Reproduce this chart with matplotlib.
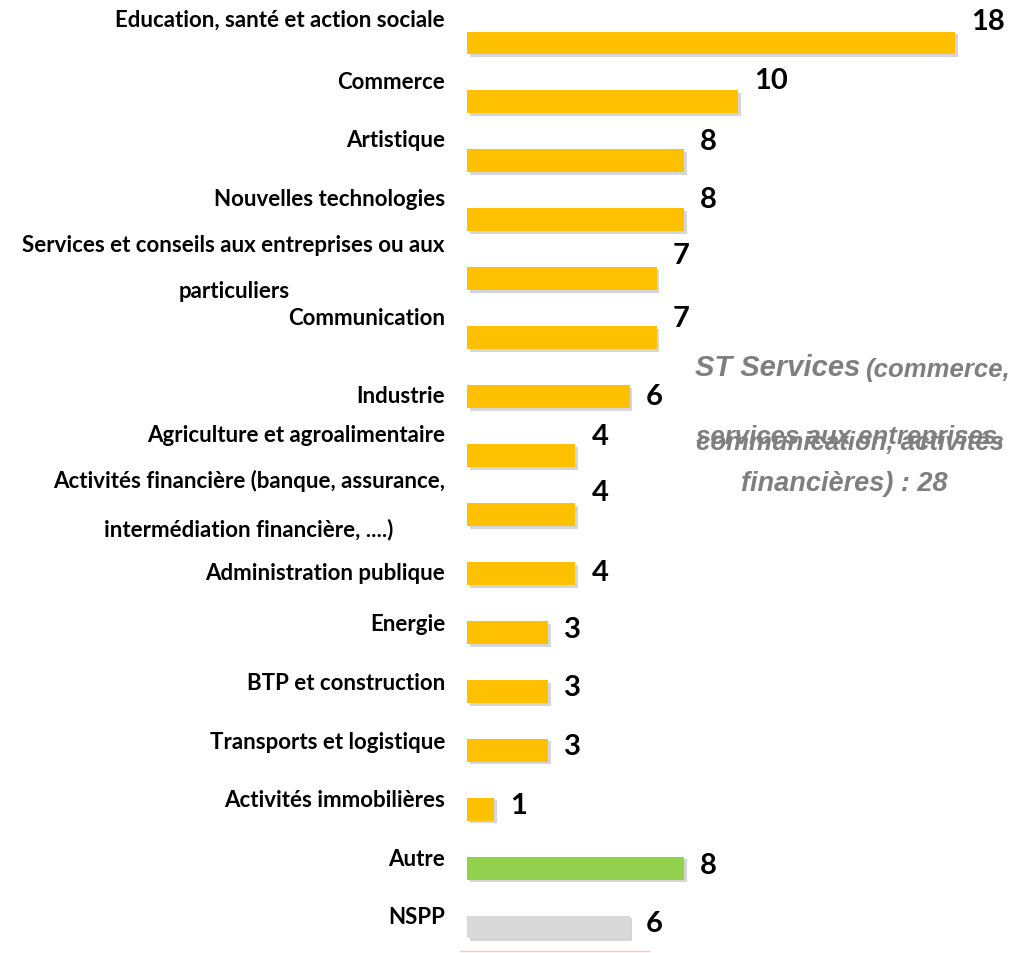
import matplotlib
matplotlib.use("Agg")
import matplotlib.pyplot as plt
import matplotlib.patheffects as pe

categories = [
    "Education, santé et action sociale",
    "Commerce",
    "Artistique",
    "Nouvelles technologies",
    "Services et conseils aux entreprises ou aux\nparticuliers",
    "Communication",
    "Industrie",
    "Agriculture et agroalimentaire",
    "Activités financière (banque, assurance,\nintermédiation financière, ....)",
    "Administration publique",
    "Energie",
    "BTP et construction",
    "Transports et logistique",
    "Activités immobilières",
    "Autre",
    "NSPP",
]
values = [18, 10, 8, 8, 7, 7, 6, 4, 4, 4, 3, 3, 3, 1, 8, 6]
groups = ["sector"] * 14 + ["other", "nspp"]

colors = {"sector": "#FFC000", "other": "#92D050", "nspp": "#D9D9D9"}
# vertical offsets (pixels) of category labels and value labels relative to bar centre
label_dy = [24, 20, 21, 21, 11, 20, 1, 21, 10, 1, 9, 9, 9, 10, 10, 10]
value_dy = [22, 22, 20, 21, 24, 20, 1, 20, 22, 1, 3, 4, 4, 4, 3, 4]

fig = plt.figure(figsize=(10.31, 9.54), dpi=100)
ax = fig.add_axes([467 / 1031, 0, 1 - 467 / 1031, 1])
ax.set_xlim(0, 564 / 27.1)
ax.set_ylim(15 + 26 / 58.93, -44 / 58.93)
ax.axis("off")

ypos = list(range(len(categories)))
bars = ax.barh(ypos, values, height=0.39, color=[colors[g] for g in groups])
for b in bars:
    b.set_path_effects([pe.SimplePatchShadow(offset=(2, -2), shadow_rgbFace="#8c8c8c", alpha=0.35),
                        pe.Normal()])

for y, cat, v, ldy, vdy in zip(ypos, categories, values, label_dy, value_dy):
    ax.annotate(cat, (0, y), xytext=(-22, ldy), textcoords="offset pixels",
                ha="right", va="center", multialignment="center",
                fontsize=16, fontweight="bold", family="Lato", linespacing=2.5)
    ax.annotate(str(v), (v, y), xytext=(16, vdy), textcoords="offset pixels",
                ha="left", va="center", fontsize=21, fontweight="bold", family="Lato")

ax.plot([-0.25, 6.7], [15.41, 15.41], color="#f4c7cf", lw=1, clip_on=False)

note = dict(color="#7f7f7f", fontweight="bold", style="italic", family="Liberation Sans",
            va="center", transform=fig.transFigure)
fig.text(860 / 1031, 1 - 368 / 954, "ST Services", fontsize=21, ha="right", **note)
fig.text(865 / 1031, 1 - 370 / 954, "(commerce,", fontsize=18.5, ha="left", **note)
fig.text(850 / 1031, 1 - 437 / 954, "services aux entreprises,", fontsize=18.5, ha="center", **note)
fig.text(850 / 1031, 1 - 443 / 954, "communication, activités", fontsize=18.5, ha="center", **note)
fig.text(844 / 1031, 1 - 484 / 954, "financières) : 28", fontsize=19.5, ha="center", **note)

fig.savefig("out.png", dpi=100)
